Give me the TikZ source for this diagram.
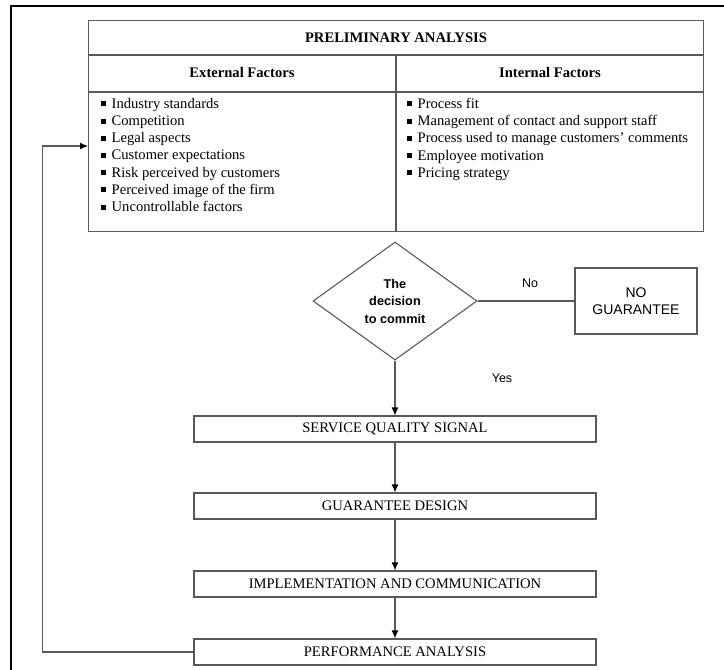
\documentclass[tikz,border=0pt]{standalone}
\usepackage{fontspec}
\setmainfont{Liberation Serif}
\newfontfamily\arialfont{Liberation Sans}
\usetikzlibrary{shapes.geometric,arrows.meta}
\newcommand{\sqb}{\rule[2pt]{4.5pt}{5pt}\hspace{6pt}}
\begin{document}
\begin{tikzpicture}[x=1pt,y=-1pt,
  gline/.style={draw=black!65, line width=1.1pt},
  arr/.style={gline, -{Latex[length=8pt,width=7pt,color=black]}},
  stepbox/.style={gline, rectangle, minimum width=402pt, minimum height=26pt, inner sep=0pt, font=\fontsize{14.6}{16}\selectfont},
  hdr/.style={font=\fontsize{14.6}{16}\selectfont\bfseries},
  lst/.style={align=left, inner sep=0pt, anchor=north west, font=\fontsize{14.6}{17.2}\selectfont},
  sans/.style={font=\arialfont\fontsize{12.5}{17}\selectfont}
]
\useasboundingbox (0,0) rectangle (724,670);
% outer frame
\draw[line width=1.6pt] (11,675) -- (11,6) -- (730,6);
% table
\node[gline, rectangle, minimum width=615pt, minimum height=211pt, inner sep=0pt, anchor=north west] (tbl) at (88,20) {};
\draw[gline] (88,55) -- (703,55);
\draw[gline] (88,92) -- (703,92);
\draw[gline] (396,55) -- (396,231);
\node[hdr] (pre) at (396,38) {PRELIMINARY ANALYSIS};
\node[hdr] (ext) at (242,73) {External Factors};
\node[hdr] (int) at (550,73) {Internal Factors};
\node[lst] (extl) at (101,98) {\sqb Industry standards\\ \sqb Competition\\ \sqb Legal aspects\\ \sqb Customer expectations\\ \sqb Risk perceived by customers\\ \sqb Perceived image of the firm\\ \sqb Uncontrollable factors};
\node[lst] (intl) at (407,98) {\sqb Process fit\\ \sqb Management of contact and support staff\\ \sqb Process used to manage customers’ comments\\ \sqb Employee motivation\\ \sqb Pricing strategy};
% decision
\node[gline, diamond, minimum width=164pt, minimum height=118pt, inner sep=0pt, align=center, font=\arialfont\bfseries\fontsize{12.7}{17.5}\selectfont] (dec) at (395,301) {The\\decision\\to commit};
\node[gline, rectangle, minimum width=122pt, minimum height=66pt, inner sep=0pt, align=center, font=\arialfont\fontsize{14}{17}\selectfont] (nog) at (636,301) {NO\\GUARANTEE};
\draw[gline] (dec.east) -- (nog.west);
\node[sans] (nolbl) at (530,283) {No};
\node[sans] (yeslbl) at (502,378) {Yes};
% steps
\node[stepbox] (sqs) at (395,429) {SERVICE QUALITY SIGNAL};
\node[stepbox] (gd) at (395,506) {GUARANTEE DESIGN};
\node[stepbox] (ic) at (395,584) {IMPLEMENTATION AND COMMUNICATION};
\node[stepbox] (pa) at (395,652) {PERFORMANCE ANALYSIS};
\draw[arr] (dec.south) -- (sqs.north);
\draw[arr] (sqs.south) -- (gd.north);
\draw[arr] (gd.south) -- (ic.north);
\draw[arr] (ic.south) -- (pa.north);
% feedback
\coordinate (fb) at (88,146);
\draw[arr] (pa.west) -- ++(-151,0) |- (fb);
\end{tikzpicture}
\end{document}
